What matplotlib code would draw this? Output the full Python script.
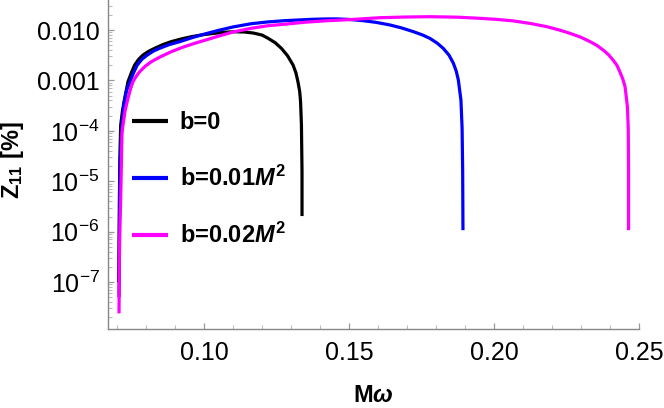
import matplotlib
matplotlib.use("Agg")
import matplotlib.pyplot as plt
import numpy as np
from matplotlib.ticker import FixedLocator, FixedFormatter, MultipleLocator, NullFormatter

plt.rcParams['font.family'] = ['Liberation Sans', 'DejaVu Sans']
plt.rcParams['mathtext.fontset'] = 'custom'
plt.rcParams['mathtext.rm'] = 'Liberation Sans'
plt.rcParams['mathtext.it'] = 'Liberation Sans:italic:bold'
plt.rcParams['mathtext.bf'] = 'Liberation Sans:bold'

# ---- data (x = M*omega, log10 of Z11 [%]) ----
x_b0 = [0.0706, 0.0708, 0.0710, 0.07128, 0.0719, 0.07266, 0.07379, 0.0750, 0.0761, 0.0775,
        0.07897, 0.0810, 0.0830, 0.0858, 0.08862, 0.0920, 0.09562, 0.0995, 0.10369, 0.1070,
        0.1105, 0.1140, 0.1170, 0.1200, 0.1221, 0.1245, 0.1267, 0.1288, 0.1307, 0.1317,
        0.1324, 0.1330, 0.1333, 0.1336, 0.1338, 0.1338]
logz_b0 = [-7.0, -5.5, -4.5, -3.885, -3.60, -3.355, -3.026, -2.84, -2.694, -2.58,
           -2.496, -2.42, -2.363, -2.29, -2.232, -2.18, -2.133, -2.095, -2.065, -2.045,
           -2.035, -2.04, -2.06, -2.10, -2.165, -2.25, -2.364, -2.51, -2.694, -2.85,
           -3.026, -3.22, -3.42, -3.885, -4.8, -5.69]

x_b1 = [0.0707, 0.0709, 0.0711, 0.07172, 0.0724, 0.0733, 0.07448, 0.0757, 0.0770, 0.0786,
        0.08045, 0.0825, 0.0847, 0.0880, 0.0916, 0.0960, 0.1002, 0.1048, 0.1100, 0.1163,
        0.1220, 0.1278, 0.1330, 0.1377, 0.1420, 0.1458, 0.1500, 0.1549, 0.1595, 0.1641,
        0.1682, 0.1722, 0.1752, 0.1779, 0.1804, 0.1825, 0.1845, 0.1860, 0.1870, 0.1877,
        0.1886, 0.1890, 0.1892, 0.1893]
logz_b1 = [-7.3, -5.6, -4.6, -3.885, -3.45, -3.20, -3.026, -2.85, -2.694, -2.58,
           -2.496, -2.42, -2.363, -2.29, -2.232, -2.15, -2.08, -2.01, -1.94, -1.875,
           -1.84, -1.815, -1.80, -1.787, -1.781, -1.78, -1.79, -1.815, -1.85, -1.90,
           -1.96, -2.033, -2.095, -2.166, -2.26, -2.364, -2.50, -2.66, -2.82, -2.99,
           -3.39, -3.95, -4.8, -5.97]

x_b2 = [0.0707, 0.0708, 0.0710, 0.07127, 0.07172, 0.07207, 0.0728, 0.0738, 0.0746, 0.07552,
        0.0766, 0.07782, 0.0797, 0.08184, 0.0850, 0.08874, 0.0925, 0.0968, 0.1008, 0.1048,
        0.1100, 0.1163, 0.1220, 0.1278, 0.1350, 0.1428, 0.1500, 0.1607, 0.1700, 0.1779,
        0.1870, 0.1952, 0.2010, 0.2067, 0.2125, 0.2182, 0.2225, 0.2262, 0.2300, 0.2331,
        0.2356, 0.2377, 0.2395, 0.2411, 0.2424, 0.2434, 0.2444, 0.2452, 0.2460, 0.2463,
        0.2464, 0.2464]
logz_b2 = [-7.62, -6.6, -5.9, -5.37, -4.04, -3.885, -3.60, -3.355, -3.18, -3.026,
           -2.92, -2.827, -2.72, -2.629, -2.53, -2.43, -2.345, -2.264, -2.195, -2.125,
           -2.04, -1.966, -1.915, -1.885, -1.845, -1.815, -1.795, -1.756, -1.742, -1.736,
           -1.745, -1.768, -1.79, -1.82, -1.87, -1.934, -2.0, -2.066, -2.145, -2.23,
           -2.31, -2.40, -2.49, -2.60, -2.70, -2.83, -2.97, -3.125, -3.52, -3.95,
           -4.8, -5.97]

labels = ["b=0", r"b=0.01$\mathit{M}^{\mathbf{2}}$", r"b=0.02$\mathit{M}^{\mathbf{2}}$"]
colors = ["black", "#0000ff", "#ff00ff"]

x_ticks = [0.10, 0.15, 0.20, 0.25]
x_ticklabels = ["0.10", "0.15", "0.20", "0.25"]
y_ticks = [1e-7, 1e-6, 1e-5, 1e-4, 1e-3, 1e-2]
y_ticklabels = [r"$10^{-7}$", r"$10^{-6}$", r"$10^{-5}$", r"$10^{-4}$", "0.001", "0.010"]

fig = plt.figure(figsize=(6.64, 4.08), dpi=100)
ax = fig.add_axes([108/664, 1 - 329/408, (639-108)/664, 329/408])

for xs, lz, c, lab in zip([x_b0, x_b1, x_b2], [logz_b0, logz_b1, logz_b2], colors, labels):
    ax.plot(xs, 10.0 ** np.array(lz), color=c, lw=2.3, label=lab,
            solid_capstyle='butt', solid_joinstyle='round')

ax.set_yscale('log')
ax.set_xlim(0.0669, 0.25)
ax.set_ylim(10 ** -7.93, 10 ** -1.405)

ax.xaxis.set_major_locator(FixedLocator(x_ticks))
ax.xaxis.set_major_formatter(FixedFormatter(x_ticklabels))
ax.xaxis.set_minor_locator(MultipleLocator(0.01))
ax.yaxis.set_major_locator(FixedLocator(y_ticks))
ax.yaxis.set_major_formatter(FixedFormatter(y_ticklabels))
minor_y = [m * 10.0 ** e for e in range(-8, -1) for m in range(2, 10)]
ax.yaxis.set_minor_locator(FixedLocator(minor_y))
ax.yaxis.set_minor_formatter(NullFormatter())

for s in ['top', 'right']:
    ax.spines[s].set_visible(False)
for s in ['left', 'bottom']:
    ax.spines[s].set_color('#888888')
    ax.spines[s].set_linewidth(1.0)

ax.tick_params(which='major', direction='in', length=4.5, width=0.9, color='#999999',
               labelsize=18, labelcolor='black')
ax.tick_params(which='minor', direction='in', length=2.6, width=0.8, color='#bbbbbb')
ax.tick_params(axis='x', which='major', pad=9)
ax.tick_params(axis='y', which='major', pad=6)

ax.set_xlabel(r"M$\omega$", fontsize=17, fontweight='bold')
ax.xaxis.set_label_coords(0.5, -0.166)
ax.set_ylabel(r"Z$_{\mathbf{11}}$ [%]", fontsize=17, fontweight='bold')
ax.yaxis.set_label_coords(-0.155, 0.514)

leg = ax.legend(loc='upper left', bbox_to_anchor=(0.028, 0.691), frameon=False,
                handlelength=1.5, handletextpad=0.5, labelspacing=1.35,
                borderaxespad=0, prop={'size': 17, 'weight': 'bold'})
for line in leg.get_lines():
    line.set_linewidth(3.0)

fig.savefig("out.png", dpi=100)
